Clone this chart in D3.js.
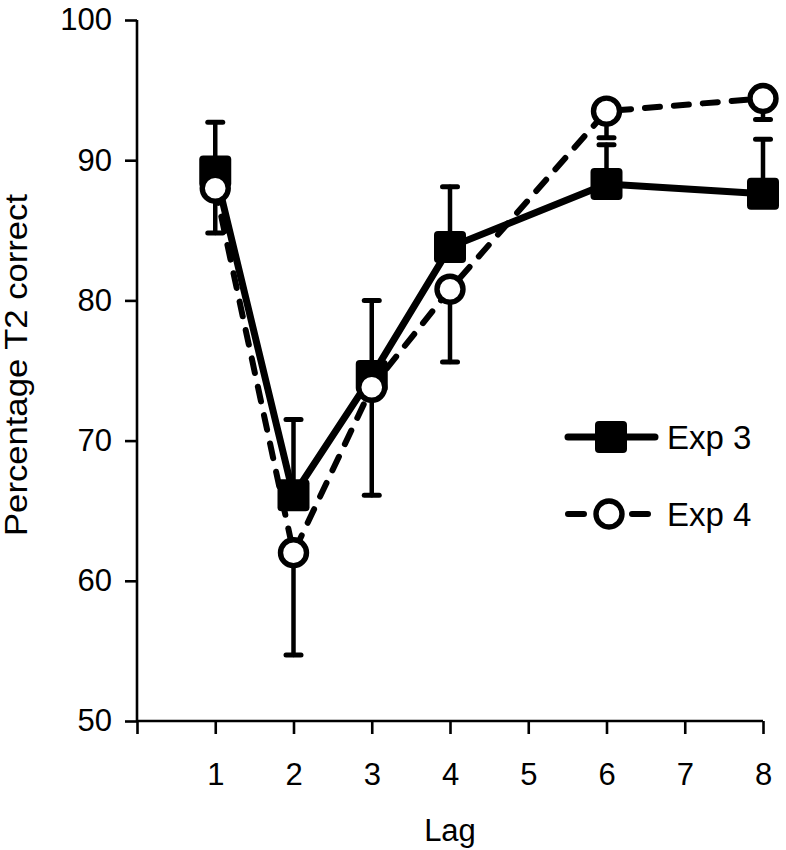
<!DOCTYPE html>
<html>
<head>
<meta charset="utf-8">
<title>Percentage T2 correct by lag</title>
<script src="https://cdn.jsdelivr.net/npm/d3@7.9.0/dist/d3.min.js"></script>
<style>
  html, body { margin: 0; padding: 0; background: #fff; }
  svg { display: block; font-family: "Liberation Sans", Arial, Helvetica, sans-serif; }
</style>
</head>
<body>
<svg id="chart" width="786" height="850"></svg>
<script>
/* ---- DATA -------------------------------------------------------------- */
var lags = [1, 2, 3, 4, 6, 8];
var exp3Mean = [89.2, 66.1, 74.6, 83.8, 88.3, 87.6];
var exp3ErrUp = [3.5, 5.4, 5.4, 4.3, 2.8, 3.9];      // bars drawn upward only
var exp4Mean = [88.0, 62.0, 73.8, 80.8, 93.5, 94.4];
var exp4ErrDown = [3.2, 7.3, 7.7, 5.2, 1.9, 1.5];    // bars drawn downward only
var xTicks = [0, 1, 2, 3, 4, 5, 6, 7, 8];
var yTicks = [50, 60, 70, 80, 90, 100];
var seriesNames = ['Exp 3', 'Exp 4'];

(function () {
  'use strict';

  var svg = d3.select('#chart');

  /* ---- scales: x is a plain linear lag axis, 0 has a tick but no label -- */
  var x = d3.scaleLinear().domain([0, 8]).range([137, 763]);
  var y = d3.scaleLinear().domain([50, 100]).range([721, 20]);

  var rows3 = lags.map(function (l, i) { return { lag: l, m: exp3Mean[i], e: exp3ErrUp[i] }; });
  var rows4 = lags.map(function (l, i) { return { lag: l, m: exp4Mean[i], e: exp4ErrDown[i] }; });

  /* ---- axes ------------------------------------------------------------- */
  var yAxis = svg.append('g')
    .attr('transform', 'translate(' + x(0) + ',0)')
    .call(d3.axisLeft(y).tickValues(yTicks).tickSize(12).tickPadding(13));
  var xAxis = svg.append('g')
    .attr('transform', 'translate(0,' + y(50) + ')')
    .call(d3.axisBottom(x).tickValues(xTicks).tickSize(13).tickPadding(29)
      .tickFormat(function (d) { return d === 0 ? '' : d; }));

  [yAxis, xAxis].forEach(function (g) {
    g.select('.domain').attr('stroke', '#000').attr('stroke-width', 2.6);
    g.selectAll('.tick line').attr('stroke', '#000').attr('stroke-width', 2.6);
    g.selectAll('.tick text').attr('fill', '#000').attr('font-size', 31)
      .attr('font-family', '"Liberation Sans", Arial, sans-serif');
  });
  // domain path draws outer ticks; remove them so only tick marks show
  yAxis.select('.domain').attr('d', 'M0,' + y(100) + 'V' + y(50));
  xAxis.select('.domain').attr('d', 'M' + x(0) + ',0H' + x(8));

  svg.append('text')
    .attr('x', x(4)).attr('y', 841)
    .attr('text-anchor', 'middle').attr('font-size', 31)
    .text('Lag');
  svg.append('text')
    .attr('transform', 'translate(27,' + 365 + ') rotate(-90)')
    .attr('text-anchor', 'middle').attr('font-size', 31)
    .attr('textLength', 342).attr('lengthAdjust', 'spacingAndGlyphs')
    .text('Percentage T2 correct');

  /* ---- lines ------------------------------------------------------------ */
  var line = d3.line().x(function (d) { return x(d.lag); }).y(function (d) { return y(d.m); });

  svg.append('path').datum(rows4)
    .attr('d', line).attr('fill', 'none').attr('stroke', '#000')
    .attr('stroke-width', 6).attr('stroke-dasharray', '15 14')
    .attr('stroke-linecap', 'round');
  svg.append('path').datum(rows3)
    .attr('d', line).attr('fill', 'none').attr('stroke', '#000')
    .attr('stroke-width', 7).attr('stroke-linejoin', 'round');

  /* ---- error bars: Exp 3 up, Exp 4 down --------------------------------- */
  function errBars(rows, dir) {
    var g = svg.append('g').attr('stroke', '#000').attr('stroke-linecap', 'round');
    g.selectAll('line.v').data(rows).enter().append('line')
      .attr('x1', function (d) { return x(d.lag); })
      .attr('x2', function (d) { return x(d.lag); })
      .attr('y1', function (d) { return y(d.m); })
      .attr('y2', function (d) { return y(d.m + dir * d.e); })
      .attr('stroke-width', 4.5);
    g.selectAll('line.cap').data(rows).enter().append('line')
      .attr('x1', function (d) { return x(d.lag) - 7.5; })
      .attr('x2', function (d) { return x(d.lag) + 7.5; })
      .attr('y1', function (d) { return y(d.m + dir * d.e); })
      .attr('y2', function (d) { return y(d.m + dir * d.e); })
      .attr('stroke-width', 5);
  }
  errBars(rows3, 1);
  errBars(rows4, -1);

  /* ---- markers ---------------------------------------------------------- */
  var sq = 32;
  svg.append('g').selectAll('rect').data(rows3).enter().append('rect')
    .attr('x', function (d) { return x(d.lag) - sq / 2; })
    .attr('y', function (d) { return y(d.m) - sq / 2; })
    .attr('width', sq).attr('height', sq).attr('rx', 4)
    .attr('fill', '#000');
  svg.append('g').selectAll('circle').data(rows4).enter().append('circle')
    .attr('cx', function (d) { return x(d.lag); })
    .attr('cy', function (d) { return y(d.m); })
    .attr('r', 13).attr('fill', '#fff').attr('stroke', '#000').attr('stroke-width', 5.4);

  /* ---- legend ----------------------------------------------------------- */
  var leg = svg.append('g');
  leg.append('line').attr('x1', 568).attr('x2', 655).attr('y1', 437).attr('y2', 437)
    .attr('stroke', '#000').attr('stroke-width', 7).attr('stroke-linecap', 'round');
  leg.append('rect').attr('x', 611 - sq / 2).attr('y', 437 - sq / 2)
    .attr('width', sq).attr('height', sq).attr('rx', 4).attr('fill', '#000');
  leg.append('line').attr('x1', 568).attr('x2', 650).attr('y1', 514).attr('y2', 514)
    .attr('stroke', '#000').attr('stroke-width', 6).attr('stroke-linecap', 'round')
    .attr('stroke-dasharray', '16 48');
  leg.append('circle').attr('cx', 609).attr('cy', 514).attr('r', 13)
    .attr('fill', '#fff').attr('stroke', '#000').attr('stroke-width', 5.4);
  leg.selectAll('text').data(seriesNames).enter().append('text')
    .attr('x', 667).attr('y', function (d, i) { return 449 + i * 77; })
    .attr('font-size', 33).text(function (d) { return d; });
})();
</script>
</body>
</html>
